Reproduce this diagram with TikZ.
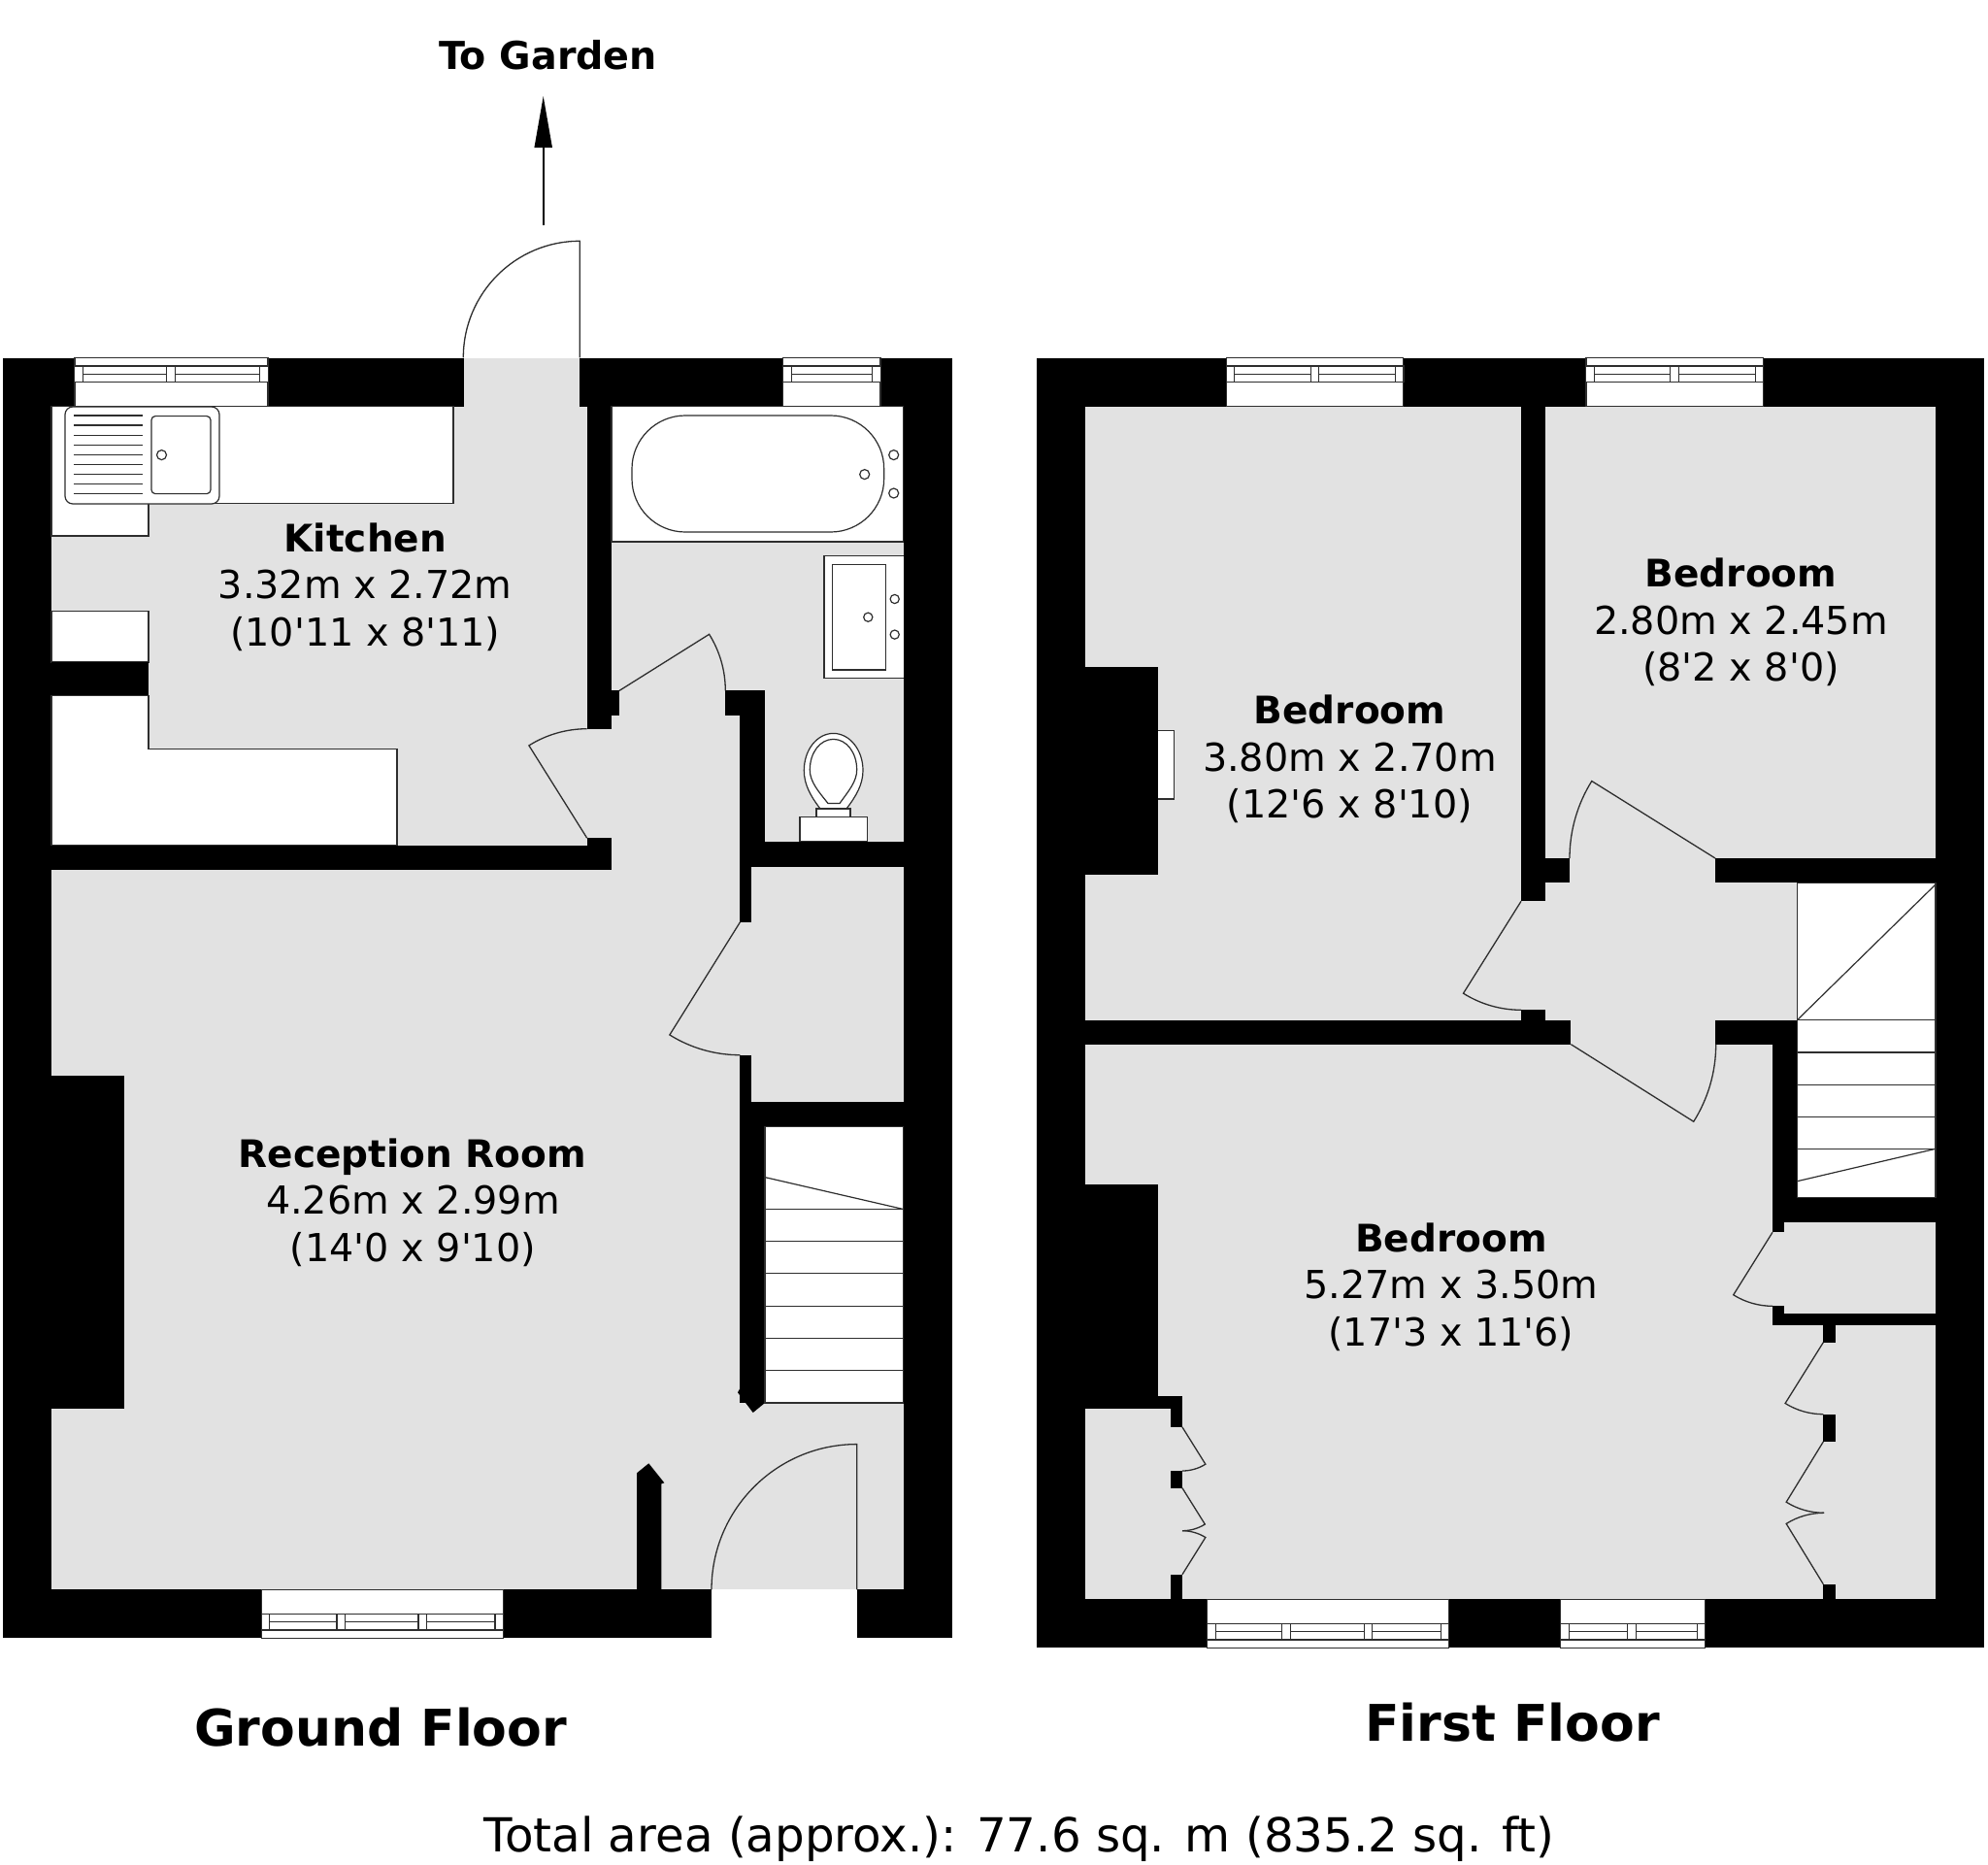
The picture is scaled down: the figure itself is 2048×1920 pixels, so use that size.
\documentclass[tikz,border=0pt]{standalone}
\usepackage{fontspec}
\setmainfont[Ligatures=TeXOff]{DejaVu Sans}
\usetikzlibrary{arrows.meta}
\definecolor{roomgrey}{HTML}{E2E2E2}
\definecolor{edge}{HTML}{2E2E2E}
\tikzset{
  wall/.style={fill=black},
  room/.style={fill=roomgrey},
  fixture/.style={fill=white,draw=edge,line width=1.2pt},
  thin line/.style={draw=edge,line width=1.2pt},
  leaf/.style={draw=edge,line width=1.3pt},
  titletext/.style={anchor=base,inner sep=0pt,font=\bfseries\fontsize{39}{39}\selectfont},
  sizetext/.style={anchor=base,inner sep=0pt,font=\fontsize{39.7}{39.7}\selectfont},
}
% x1 x2 yOuter yInner sign mullion-centres
\newcommand\winframe[6]{%
  \filldraw[fixture] (#1,#3) rectangle (#2,#4);
  \draw[thin line] (#1,{#3+#5*8.4}) -- (#2,{#3+#5*8.4});
  \draw[thin line] (#1,{#3+#5*17}) -- (#2,{#3+#5*17});
  \draw[thin line] (#1,{#3+#5*25}) -- (#2,{#3+#5*25});
  \foreach \mm in {#6}{\filldraw[fixture] ({\mm-4.2},{#3+#5*8.4}) rectangle ({\mm+4.2},{#3+#5*25});}
}
\begin{document}
\begin{tikzpicture}[x=1pt,y=-1pt]
\useasboundingbox (0,0) rectangle (2048,1920);
\fill[white] (0,0) rectangle (2048,1920);

%% ---------- GROUND FLOOR ----------
\fill[wall] (2.5,368.6) rectangle (980.7,1687.3);
% rooms
\fill[room] (53,418.6) rectangle (605,870.7);
\fill[room] (478,368.6) rectangle (597.3,420);
\fill[room] (53,896) rectangle (762.3,1637.3);
\fill[room] (605,750.7) rectangle (762.3,863);
\fill[room] (630,737) rectangle (762.3,897);
\fill[room] (638,711.4) rectangle (747.3,738);
\fill[room] (630,418.6) rectangle (930.7,711.4);
\fill[room] (787.7,710) rectangle (930.7,866.8);
\fill[room] (774.3,892.9) rectangle (930.7,1134.5);
\fill[room] (762,950) rectangle (775,1086.7);
\fill[room] (762,1445) rectangle (930.7,1637.3);
\fill[white] (733,1637.3) rectangle (882.7,1687.3);
% wall extras
\fill[wall] (52,1107.5) rectangle (128,1451);
\fill[wall] (762.3,1430) -- (760,1434.3) -- (775.7,1455) -- (788,1445) -- (788,1430) -- cycle;
\fill[wall] (656,1637.5) -- (656,1517.3) -- (668.3,1507.3) -- (684.3,1527.3) -- (681.3,1528.3) -- (681.3,1637.5) -- cycle;
% kitchen units
\filldraw[fixture] (53,418.6) -- (467,418.6) -- (467,518.6) -- (153,518.6) -- (153,552) -- (53,552) -- cycle;
\filldraw[fixture] (53,629.6) rectangle (153,682);
\fill[wall] (53,682) rectangle (153,716.8);
\filldraw[fixture] (53,716.8) -- (153,716.8) -- (153,771.4) -- (409,771.4) -- (409,870.7) -- (53,870.7) -- cycle;
\filldraw[fixture,rounded corners=8pt] (67,419) rectangle (226,519);
\foreach \yy in {428,438.07,448.14,458.21,468.28,478.35,488.42,498.49,508.56}{\draw[thin line] (76,\yy) -- (147,\yy);}
\filldraw[fixture,rounded corners=4pt] (156,428.6) rectangle (217,508.6);
\draw[thin line] (166.5,468.6) circle[radius=5pt];
% windows
\winframe{77}{276}{368.6}{418.6}{1}{81,176,272}
\winframe{806.7}{907}{368.6}{418.6}{1}{811,903}
\winframe{269.3}{518.3}{1687.3}{1637.5}{-1}{273.5,351.2,435.2,514.1}
% bath
\filldraw[fixture] (630,418.6) rectangle (930.7,557.9);
\filldraw[fixture,rounded corners=55pt] (651,428) rectangle (910.7,548);
\draw[thin line] (890.7,488.6) circle[radius=5pt];
\draw[thin line] (920.7,468.6) circle[radius=5pt];
\draw[thin line] (920.7,508) circle[radius=5pt];
% basin
\filldraw[fixture] (930.7,572.5) -- (849,572.5) -- (849,698.6) -- (930.7,698.6);
\filldraw[fixture] (857.7,581.4) rectangle (912.7,690);
\draw[thin line] (894.3,635.7) circle[radius=4.6pt];
\draw[thin line] (921.7,617) circle[radius=4.6pt];
\draw[thin line] (921.7,653.6) circle[radius=4.6pt];
% toilet
\filldraw[fixture] (845,833) .. controls (835,820) and (828.3,808) .. (828.3,793.6) .. controls (828.3,772) and (842,755.4) .. (858.5,755.4) .. controls (875,755.4) and (889,772) .. (889,793.6) .. controls (889,808) and (882,820) .. (872,833) -- cycle;
\filldraw[fixture] (853,827.5) .. controls (843,815) and (834.3,805) .. (834.3,793) .. controls (834.3,775) and (845,761.4) .. (858.5,761.4) .. controls (872,761.4) and (882.7,775) .. (882.7,793) .. controls (882.7,805) and (874,815) .. (865,827.5) -- cycle;
\filldraw[fixture] (841,833) rectangle (876,841.8);
\filldraw[fixture] (824,841.8) rectangle (893.3,866.8);
% stairs
\filldraw[fixture] (788,1160.5) rectangle (930.7,1445);
\foreach \yy in {1245.5,1278.4,1311.7,1345.4,1378.6,1411.6}{\draw[thin line] (788,\yy) -- (930.7,\yy);}
\draw[thin line] (788,1212.6) -- (930.7,1245.5);
% doors
\draw[leaf] (477.3,368.3) arc[start angle=180,end angle=90,radius=120pt] -- (597.3,368.3);
\draw[leaf] (604.7,750.7) arc[start angle=90,end angle=122.1,radius=112.5pt] -- (604.7,863.2);
\draw[leaf] (747.3,711.4) arc[start angle=0,end angle=32.1,radius=109.3pt] -- (638,711.4);
\draw[leaf] (762.3,1086.7) arc[start angle=270,end angle=238,radius=136.7pt] -- (762.3,950);
\draw[leaf] (733,1637.3) arc[start angle=180,end angle=90,radius=149.7pt] -- (882.7,1637.3);
% arrow
\coordinate (arrowtail) at (559.7,232);
\coordinate (arrowtip) at (559.7,99);
\draw[line width=2pt,-{Triangle[length=53pt,width=18pt]}] (arrowtail) -- (arrowtip);

%% ---------- FIRST FLOOR ----------
\fill[wall] (1068,368.6) rectangle (2044.3,1697.3);
\fill[room] (1118.3,418.6) rectangle (1567,1050.7);
\fill[room] (1592.3,418.6) rectangle (1994,884);
\fill[room] (1617,884) rectangle (1767,910);
\fill[room] (1592.3,909.3) rectangle (1851.4,1050.7);
\fill[room] (1566,928.3) rectangle (1593,1040.3);
\fill[room] (1618.4,1050) rectangle (1767,1076);
\fill[room] (1118.3,1075.7) rectangle (1826,1647.3);
\fill[room] (1825,1365) rectangle (1994,1647.3);
\fill[room] (1838.3,1259) rectangle (1994,1353.3);
\fill[room] (1825,1269.3) rectangle (1839,1345.3);
% chimneys and closet walls
\fill[wall] (1117,687) rectangle (1193.3,901);
\fill[wall] (1117,1220) rectangle (1193.3,1439);
\fill[wall] (1117,1438.3) rectangle (1218.3,1450.7);
\fill[wall] (1206,1450) rectangle (1218.3,1470);
\fill[wall] (1206,1515) rectangle (1218.3,1532.7);
\fill[wall] (1206,1621.7) rectangle (1218.3,1648);
\fill[wall] (1878.3,1364) rectangle (1890.7,1382.7);
\fill[wall] (1878.3,1456.7) rectangle (1890.7,1485);
\fill[wall] (1878.3,1631.7) rectangle (1890.7,1648);
% hearth
\filldraw[fixture] (1193.3,752.5) -- (1209.7,752.5) -- (1209.7,823) -- (1193.3,823);
% windows
\winframe{1263.3}{1445.7}{368.6}{418.6}{1}{1267.5,1354.3,1441.7}
\winframe{1634}{1816.6}{368.6}{418.6}{1}{1638,1725,1812.4}
\winframe{1243.7}{1492.3}{1697.3}{1647.6}{-1}{1247.9,1325,1409.3,1488.3}
\winframe{1607.7}{1756.7}{1697.3}{1647.6}{-1}{1612,1681,1752.5}
% stairs
\filldraw[fixture] (1851.4,909.3) rectangle (1994,1233.3);
\draw[thin line] (1851.4,1050.7) -- (1994,911);
\foreach \yy in {1050.7,1084,1117.3,1150.3,1183.3}{\draw[thin line] (1851.4,\yy) -- (1994,\yy);}
\draw[thin line] (1851.4,1216.7) -- (1994,1183.3);
% doors
\draw[leaf] (1617,884) arc[start angle=180,end angle=148,radius=150pt] -- (1767,884);
\draw[leaf] (1567,1040.3) arc[start angle=270,end angle=237.9,radius=112pt] -- (1567,928.3);
\draw[leaf] (1767.7,1075.7) arc[start angle=0,end angle=-32.2,radius=149.3pt] -- (1618.4,1075.7);
\draw[leaf] (1826,1345.3) arc[start angle=270,end angle=238,radius=76pt] -- (1826,1269.3);
\draw[leaf] (1878.3,1456.7) arc[start angle=270,end angle=238,radius=74pt] -- (1878.3,1382.7);
\draw[leaf] (1879,1558.3) arc[start angle=270,end angle=238,radius=73.3pt] -- (1878.3,1485);
\draw[leaf] (1879,1558.3) arc[start angle=90,end angle=122,radius=73.3pt] -- (1878.3,1631.7);
\draw[leaf] (1218,1515) arc[start angle=270,end angle=302,radius=45pt] -- (1218,1470);
\draw[leaf] (1218,1576.7) arc[start angle=270,end angle=302,radius=44pt] -- (1218,1532.7);
\draw[leaf] (1218,1576.7) arc[start angle=90,end angle=58,radius=45pt] -- (1218,1621.7);

%% ---------- TEXT ----------
\node[anchor=base,inner sep=0pt,font=\bfseries\fontsize{39.6}{39.6}\selectfont] (garden) at (564.5,71.5) {To Garden};
\node[titletext] (kitchenA) at (376.3,568.2) {Kitchen};
\node[sizetext] (kitchenB) at (376.3,616.8) {3.32m x 2.72m};
\node[sizetext] (kitchenC) at (376.3,665) {(10'11 x 8'11)};
\node[titletext] (receptionA) at (424.8,1202) {Reception Room};
\node[sizetext] (receptionB) at (425.5,1250) {4.26m x 2.99m};
\node[sizetext] (receptionC) at (425.5,1299) {(14'0 x 9'10)};
\node[titletext] (bedaA) at (1390.5,745) {Bedroom};
\node[sizetext] (bedaB) at (1390.5,794.3) {3.80m x 2.70m};
\node[sizetext] (bedaC) at (1390.5,842.9) {(12'6 x 8'10)};
\node[titletext] (bedbA) at (1793.5,604) {Bedroom};
\node[sizetext] (bedbB) at (1793.5,653) {2.80m x 2.45m};
\node[sizetext] (bedbC) at (1793.5,701) {(8'2 x 8'0)};
\node[titletext] (bedcA) at (1495,1289) {Bedroom};
\node[sizetext] (bedcB) at (1495,1337) {5.27m x 3.50m};
\node[sizetext] (bedcC) at (1495,1386) {(17'3 x 11'6)};
\node[anchor=base,inner sep=0pt,font=\bfseries\fontsize{52}{52}\selectfont] (ground) at (392,1798) {Ground Floor};
\node[anchor=base,inner sep=0pt,font=\bfseries\fontsize{52}{52}\selectfont] (first) at (1558,1793) {First Floor};
\node[anchor=base,inner sep=0pt,font=\fontsize{48.3}{48.3}\selectfont] (total) at (1050,1907) {Total area (approx.): 77.6 sq. m (835.2 sq. ft)};
\end{tikzpicture}
\end{document}
